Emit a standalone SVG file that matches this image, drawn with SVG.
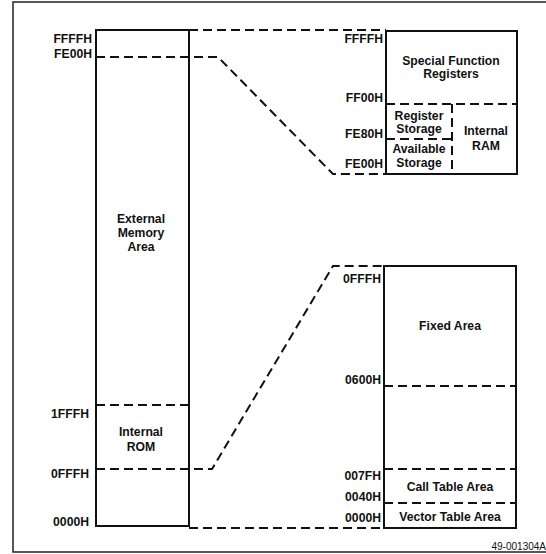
<svg xmlns="http://www.w3.org/2000/svg" width="546" height="554" viewBox="0 0 546 554">
<style>
.t{font-family:"Liberation Sans",Arial,sans-serif;font-weight:bold;font-size:12.2px;fill:#111}
.r{text-anchor:end}
.c{text-anchor:middle}
.box{fill:none;stroke:#111;stroke-width:2}
.d{fill:none;stroke:#111;stroke-width:2;stroke-dasharray:9 5}
</style>
<rect width="546" height="554" fill="#fff"/>
<path d="M546 2 H13 V552 H546" fill="none" stroke="#222" stroke-width="1.5"/>
<g id="connectors">
<path class="d" d="M189 30 H386"/>
<path class="d" d="M96 57 H218 L333 174 H386"/>
<path class="d" d="M96 469 H212 L333 266 H384"/>
<path class="d" d="M189 528 H384"/>
</g>
<g id="main-memory">
<rect class="box" x="96" y="30" width="93" height="496"/>
<text class="t r" x="92" y="43">FFFFH</text>
<text class="t r" x="92" y="58">FE00H</text>
<text class="t c" x="141" y="223">External</text>
<text class="t c" x="141" y="237">Memory</text>
<text class="t c" x="141" y="251">Area</text>
</g>
<g id="internal-rom">
<path class="d" d="M96 405 H189"/>
<text class="t r" x="89" y="418">1FFFH</text>
<text class="t c" x="141" y="436">Internal</text>
<text class="t c" x="141" y="451">ROM</text>
<text class="t r" x="89" y="478">0FFFH</text>
<text class="t r" x="89" y="526">0000H</text>
</g>
<g id="internal-ram">
<rect class="box" x="386" y="31" width="131" height="143"/>
<path class="d" d="M386 104 H517"/>
<path class="d" d="M452 104 V174"/>
<path class="d" d="M386 139 H452"/>
<text class="t r" x="383" y="43">FFFFH</text>
<text class="t r" x="383" y="102">FF00H</text>
<text class="t r" x="383" y="138">FE80H</text>
<text class="t r" x="383" y="168">FE00H</text>
<text class="t c" x="451" y="65">Special Function</text>
<text class="t c" x="451" y="78">Registers</text>
<text class="t c" x="419" y="120">Register</text>
<text class="t c" x="419" y="133">Storage</text>
<text class="t c" x="419" y="153">Available</text>
<text class="t c" x="419" y="167">Storage</text>
<text class="t c" x="486" y="135">Internal</text>
<text class="t c" x="486" y="150">RAM</text>
</g>
<g id="internal-rom-detail">
<rect class="box" x="384" y="266" width="132" height="262"/>
<path class="d" d="M384 386 H516"/>
<path class="d" d="M384 469 H516"/>
<path class="d" d="M384 503 H516"/>
<text class="t r" x="381" y="283">0FFFH</text>
<text class="t r" x="381" y="384">0600H</text>
<text class="t r" x="381" y="480">007FH</text>
<text class="t r" x="381" y="501">0040H</text>
<text class="t r" x="381" y="522">0000H</text>
<text class="t c" x="450" y="330">Fixed Area</text>
<text class="t c" x="450" y="491">Call Table Area</text>
<text class="t c" x="450" y="521">Vector Table Area</text>
</g>
<text x="546" y="550" font-family="Liberation Sans,Arial,sans-serif" font-size="10" text-anchor="end" fill="#111">49-001304A</text>
</svg>
